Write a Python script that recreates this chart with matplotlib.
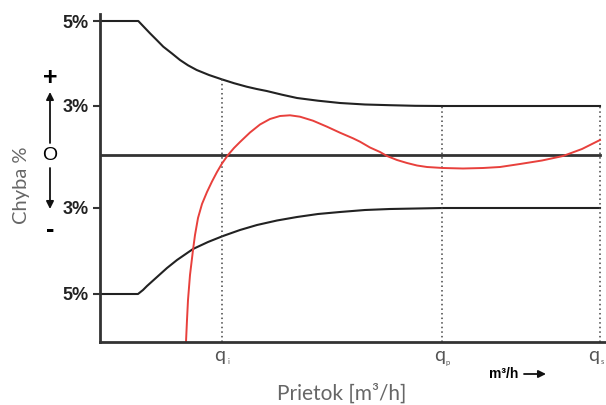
import matplotlib
matplotlib.use("Agg")
import matplotlib.pyplot as plt

# data (x: flow in chart units, y: error in chart units, zero line = 0)
top_x = [0, 0.383, 0.44, 0.50, 0.567, 0.633, 0.72, 0.80, 0.88, 0.967, 1.09, 1.217,
         1.34, 1.467, 1.567, 1.667, 1.82, 1.97, 2.18, 2.40, 2.65, 2.90, 3.15, 3.43, 5.00]
top_y = [134, 134, 128, 121.7, 115, 108.3, 101.5, 95, 89.7, 85, 80, 75.7,
         71.8, 68.3, 66, 64, 60.3, 57, 54.3, 52, 50.5, 49.8, 49.2, 49, 49]

bot_x = [0, 0.38, 0.43, 0.47, 0.52, 0.57, 0.62, 0.67, 0.72, 0.77, 0.85, 0.93,
         1.08, 1.23, 1.40, 1.57, 1.77, 1.97, 2.18, 2.40, 2.65, 2.90, 3.43, 5.00]
bot_y = [-139, -139, -135, -131, -126.5, -122, -117.5, -113, -109, -105, -99.5, -94,
         -87, -81, -75, -70, -65.5, -62, -59, -57, -55, -54, -53, -53]

red_x = [0.855, 0.86, 0.87, 0.88, 0.90, 0.93, 0.95, 0.98, 1.02, 1.07, 1.12, 1.17,
         1.22, 1.28, 1.34, 1.40, 1.50, 1.60, 1.70, 1.80, 1.90, 2.00, 2.13, 2.27,
         2.40, 2.53, 2.60, 2.70, 2.80, 2.87, 2.97, 3.07, 3.17, 3.27, 3.43, 3.63,
         3.83, 4.00, 4.20, 4.42, 4.63, 4.82, 5.00]
red_y = [-195, -187, -165, -145, -120, -95, -80, -63, -49, -37, -26.5, -17,
         -8.5, 0, 7, 13, 22.5, 30.5, 36, 39, 39.7, 38.3, 34.3, 28.3,
         22.3, 16.7, 13.3, 7.5, 3, -1, -5, -8, -10.5, -12, -13, -13.5,
         -13, -12, -9, -5.5, -1, 6, 15]

q_pos = [1.22, 3.42, 5.00]
q_top = [76, 49, 49]
q_sub = ['i', 'p', 's']

ytick_pos = [134, 49, -53, -139]
ytick_lab = ['5%', '3%', '3%', '5%']

W, H = 606, 405
fig = plt.figure(figsize=(W / 100, H / 100), dpi=100)
ax = fig.add_axes([100 / W, (H - 342) / H, 505 / W, 328 / H])

ax.plot(top_x, top_y, color='#222222', lw=1.5)
ax.plot(bot_x, bot_y, color='#222222', lw=1.5)
ax.axhline(0, xmin=0, xmax=5.0 / 5.05, color='#333333', lw=2)
for xp, yt in zip(q_pos, q_top):
    ax.plot([xp, xp], [-187, yt], color='#444444', lw=1.1, ls=(0, (1, 2)))
ax.plot(red_x, red_y, color='#e8403c', lw=1.4)

ax.set_xlim(0, 5.05)
ax.set_ylim(-187, 141)
for s in ['top', 'right']:
    ax.spines[s].set_visible(False)
for s in ['left', 'bottom']:
    ax.spines[s].set_linewidth(2)
    ax.spines[s].set_color('#333333')
ax.set_xticks([])
ax.set_yticks(ytick_pos)
ax.set_yticklabels(ytick_lab, fontsize=13, family='Liberation Sans',
                   fontweight='bold', color='#222222')
ax.tick_params(axis='y', length=5, width=1.5, pad=3, color='#333333')


def ftext(px, py, s, **kw):
    fig.text(px / W, 1 - py / H, s, ha='center', va='center', **kw)


# left annotations
ftext(22, 185, 'Chyba %', rotation=90, fontsize=14.5, color='#666666', family='Lato')
ftext(50, 78, '+', fontsize=18, fontweight='bold', family='Liberation Sans')
ftext(50, 156, 'O', fontsize=14, family='Liberation Sans')
ftext(50, 230, '-', fontsize=18, fontweight='bold', family='Liberation Sans')
ap = dict(arrowstyle='-|>', color='#111111', lw=1.3, mutation_scale=11, shrinkA=0, shrinkB=0)
ax.annotate('', xy=(50, H - 92), xytext=(50, H - 143), xycoords='figure pixels',
            textcoords='figure pixels', arrowprops=ap)
ax.annotate('', xy=(50, H - 209), xytext=(50, H - 168), xycoords='figure pixels',
            textcoords='figure pixels', arrowprops=ap)

# x annotations
for xp, sub in zip(q_pos, q_sub):
    px = min(100 + xp * 100, 596)
    ftext(px - 2, 356, 'q', fontsize=14, color='#555555', family='Lato')
    ftext(px + 6, 362, sub, fontsize=5.5, color='#555555', family='Lato')
ftext(504, 374, 'm³/h', fontsize=10, fontweight='bold', family='Liberation Sans')
ax.annotate('', xy=(546, H - 374), xytext=(524, H - 374), xycoords='figure pixels',
            textcoords='figure pixels', arrowprops=ap)
ftext(342, 394, 'Prietok [m³/h]', fontsize=15, color='#666666', family='Lato')

fig.savefig('out.png', dpi=100)
